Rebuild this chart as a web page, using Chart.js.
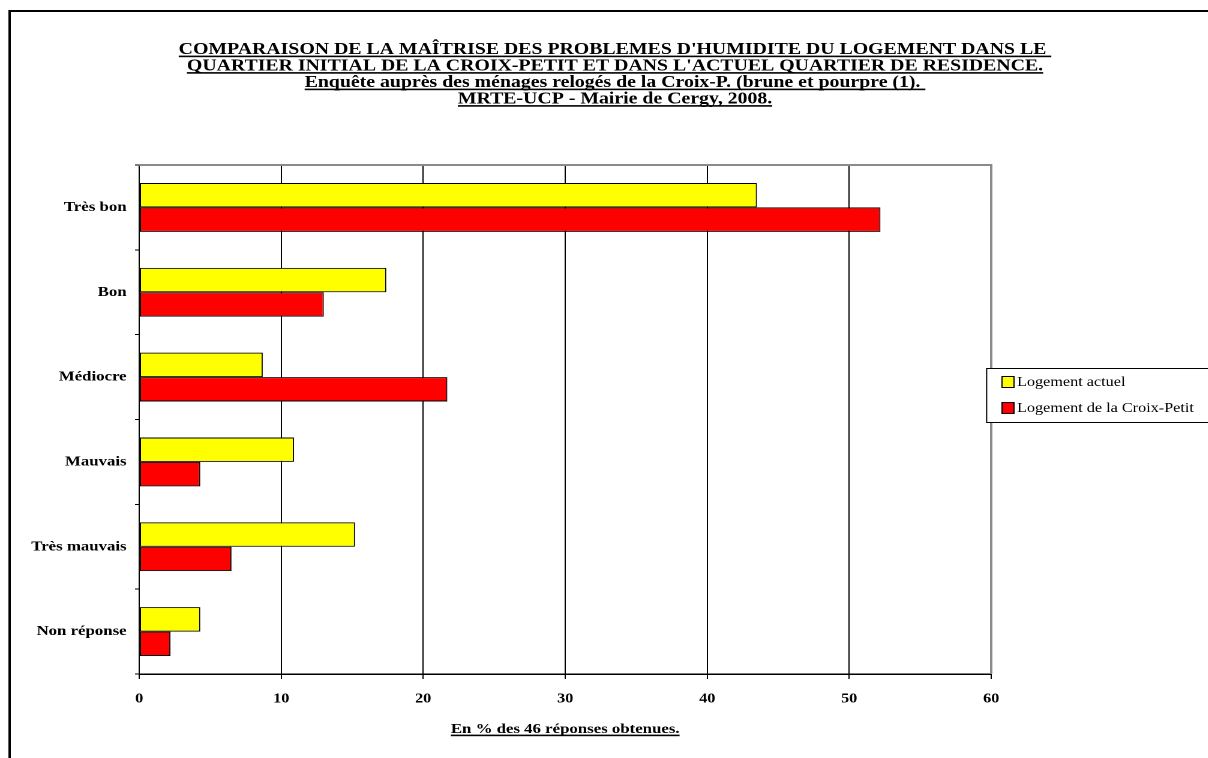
<!DOCTYPE html>
<html>
<head>
<meta charset="utf-8">
<script src="https://cdn.jsdelivr.net/npm/chart.js@4"></script>
<style>
  html, body { margin: 0; padding: 0; background: #fff; overflow: hidden; }
  /* the chart is laid out narrow and widened, giving the broad serif lettering */
  #wrap { width: 1007px; height: 758px; transform: scaleX(1.2); transform-origin: 0 0; }
</style>
</head>
<body>
<div id="wrap"><canvas id="c" width="1007" height="758"></canvas></div>
<script>
// Humidity control ratings, in % of the 46 answers
const categories = ['Très bon', 'Bon', 'Médiocre', 'Mauvais', 'Très mauvais', 'Non réponse'];
const seriesActuel = [43.5, 17.4, 8.7, 10.9, 15.2, 4.3];
const seriesCroixPetit = [52.2, 13.0, 21.7, 4.3, 6.5, 2.2];
const seriesNames = ['Logement actuel', 'Logement de la Croix-Petit'];
const xTickValues = [0, 10, 20, 30, 40, 50, 60];

const titleLines = [
  "COMPARAISON DE LA MAÎTRISE DES PROBLEMES D'HUMIDITE DU LOGEMENT DANS LE ",
  "QUARTIER INITIAL DE LA CROIX-PETIT ET DANS L'ACTUEL QUARTIER DE RESIDENCE.",
  "Enquête auprès des ménages relogés de la Croix-P. (brune et pourpre (1). ",
  "MRTE-UCP - Mairie de Cergy, 2008."
];
const axisTitle = 'En % des 46 réponses obtenues.';

const SERIF = '"Liberation Serif", "Times New Roman", Times, serif';

function underlinedText(ctx, text, cx, baseline, font) {
  ctx.font = font;
  const w = ctx.measureText(text).width;
  const x = cx - w / 2;
  ctx.textAlign = 'left';
  ctx.textBaseline = 'alphabetic';
  ctx.fillText(text, x, baseline);
  ctx.fillRect(x, baseline + 1.6, w, 1.6);
}

const decorations = {
  id: 'decorations',
  beforeDraw(chart) {
    const { ctx, width, height } = chart;
    ctx.save();
    ctx.fillStyle = '#fff';
    ctx.fillRect(0, 0, width, height);
    ctx.strokeStyle = '#000';
    ctx.lineWidth = 2;
    ctx.strokeRect(8, 11, width + 60, height + 60);
    ctx.restore();
  },
  afterDatasetsDraw(chart) {
    const { ctx, chartArea: a } = chart;
    ctx.save();
    ctx.strokeStyle = '#8a8a8a';
    ctx.lineWidth = 2;
    ctx.beginPath();
    ctx.moveTo(a.left, a.top);
    ctx.lineTo(a.right, a.top);
    ctx.lineTo(a.right, a.bottom);
    ctx.stroke();
    ctx.restore();
  },
  afterDraw(chart) {
    const { ctx, chartArea: a } = chart;
    ctx.save();
    ctx.fillStyle = '#000';
    // headline
    const titleFont = 'bold 16.5px ' + SERIF;
    titleLines.forEach((line, i) => {
      underlinedText(ctx, line, 512.5, 54 + i * 16.5, titleFont);
    });
    // axis caption
    underlinedText(ctx, axisTitle, (a.left + a.right) / 2, 733, 'bold 14px ' + SERIF);

    // legend box
    const lx = 821.7, ly = 368, lh = 54;
    ctx.fillStyle = '#fff';
    ctx.fillRect(lx, ly, 400, lh);
    ctx.strokeStyle = '#000';
    ctx.lineWidth = 1;
    ctx.strokeRect(lx + 0.5, ly + 0.5, 400, lh);
    ctx.font = '13.5px ' + SERIF;
    ctx.textAlign = 'left';
    ctx.textBaseline = 'middle';
    chart.data.datasets.forEach((ds, i) => {
      const cy = ly + 14 + i * 26;
      ctx.fillStyle = ds.backgroundColor;
      ctx.fillRect(835, cy - 5.5, 10, 11);
      ctx.strokeStyle = '#000';
      ctx.strokeRect(835, cy - 5.5, 10, 11);
      ctx.fillStyle = '#000';
      ctx.fillText(ds.label, 847.5, cy + 0.5);
    });
    ctx.restore();
  }
};

new Chart(document.getElementById('c'), {
  type: 'bar',
  data: {
    labels: categories,
    datasets: [
      { label: seriesNames[0], data: seriesActuel, backgroundColor: '#ffff00',
        borderColor: '#000', borderWidth: 1, borderSkipped: false },
      { label: seriesNames[1], data: seriesCroixPetit, backgroundColor: '#ff0000',
        borderColor: '#000', borderWidth: 1, borderSkipped: false }
    ]
  },
  options: {
    indexAxis: 'y',
    responsive: false,
    animation: false,
    devicePixelRatio: 2,
    categoryPercentage: 0.576,
    barPercentage: 1.0,
    layout: { padding: { top: 165, right: 181, left: 0, bottom: 0 } },
    plugins: { legend: { display: false }, title: { display: false }, tooltip: { enabled: false } },
    scales: {
      x: {
        type: 'linear',
        min: 0,
        max: 60,
        afterBuildTicks(scale) { scale.ticks = xTickValues.map(v => ({ value: v })); },
        afterFit(scale) { scale.height = 84; },
        grid: { color: '#000', lineWidth: 1, drawTicks: true, tickLength: 5 },
        border: { color: '#000', width: 1.5 },
        ticks: { color: '#000', padding: 12, font: { family: SERIF, size: 13.5, weight: 'bold' } }
      },
      y: {
        type: 'category',
        offset: true,
        afterFit(scale) { scale.width = 116; },
        grid: { offset: true, drawOnChartArea: false, drawTicks: true, tickLength: 3.5, color: '#000' },
        border: { color: '#000', width: 1 },
        ticks: { color: '#000', padding: 7, font: { family: SERIF, size: 14, weight: 'bold' } }
      }
    }
  },
  plugins: [decorations]
});
</script>
</body>
</html>
